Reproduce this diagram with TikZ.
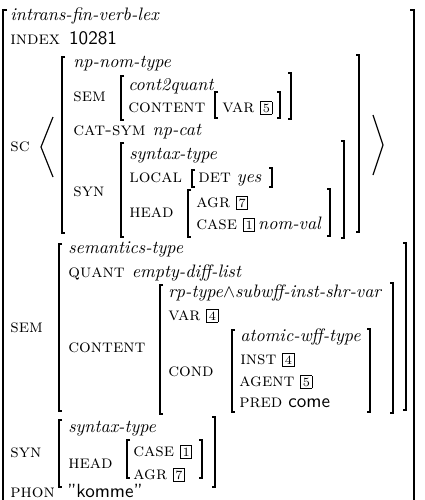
\documentclass[tikz,border=0pt]{standalone}
\usepackage{amssymb}
\newcommand{\tg}[1]{{\setlength{\fboxsep}{0.9pt}\setlength{\fboxrule}{0.45pt}\fbox{\scriptsize #1}}}
\newcommand{\ft}[1]{{\fontsize{10.2}{13}\selectfont\scshape #1}}
\newcommand{\ty}[1]{\textit{#1}}
\newcommand{\va}[1]{{\fontsize{10.6}{13}\selectfont\sffamily #1}}
\newcommand{\LB}[3]{\draw[brk] (#1+3,#2) -- (#1,#2) -- (#1,#3) -- (#1+3,#3);}
\newcommand{\RB}[3]{\draw[brk] (#1-3,#2) -- (#1,#2) -- (#1,#3) -- (#1-3,#3);}
\begin{document}
\begin{tikzpicture}[x=0.555pt,y=-0.555pt,
  txt/.style={anchor=base west,inner sep=0pt},
  brk/.style={line width=0.65pt},
  obrk/.style={line width=1pt},
  angl/.style={line width=0.65pt}]
\clip (0,0) rectangle (424,500);
\fill[white] (0,0) rectangle (424,500);
% outer bracket
\draw[obrk] (7,10) -- (3,10) -- (3,505);
\draw[obrk] (410,10) -- (414,10) -- (414,505);
\node[txt] (t1) at (10,20) {\ty{intrans-fin-verb-lex}};
\node[txt] (t2) at (10,44) {\ft{index}\hspace{5pt}\va{10281}};
% SC
\node[txt] (sc) at (10,151) {\ft{sc}};
\draw[angl] (53,117) -- (41,147) -- (53,177);
\draw[angl] (373,115) -- (383,145) -- (373,175);
\LB{62}{57}{233}
\RB{359}{55}{232}
\node[txt] (np) at (73,67) {\ty{np-nom-type}};
\node[txt] (sem1) at (73,101) {\ft{sem}};
\LB{121}{76}{120}
\RB{291}{73}{119}
\node[txt] (c2q) at (128,90) {\ty{cont2quant}};
\node[txt] (cont1) at (128,112) {\ft{content}};
\LB{215}{92}{118}
\RB{280}{92}{118}
\node[txt] (var5) at (222,112) {\ft{var} \tg{5}};
\node[txt] (cat) at (73,135) {\ft{cat-sym}\hspace{4pt}\ty{np-cat}};
\node[txt] (syn1) at (73,196) {\ft{syn}};
\LB{121}{143}{237}
\RB{344}{141}{238}
\node[txt] (st1) at (129,159) {\ty{syntax-type}};
\node[txt] (loc) at (129,182) {\ft{local}};
\LB{192}{170}{187}
\RB{272}{168}{187}
\node[txt] (det) at (198,182) {\ft{det} \ty{yes}};
\node[txt] (head1) at (129,217) {\ft{head}};
\LB{188}{190}{237}
\RB{330}{189}{236}
\node[txt] (agr1) at (196,207) {\ft{agr} \tg{7}};
\node[txt] (case1) at (196,229) {\ft{case} \tg{1}\,\ty{nom-val}};
% SEM
\node[txt] (sem2) at (10,332) {\ft{sem}};
\LB{59}{244}{411}
\RB{406}{243}{410}
\node[txt] (semt) at (68,253) {\ty{semantics-type}};
\node[txt] (quant) at (68,277) {\ft{quant}\hspace{4pt}\ty{empty-diff-list}};
\node[txt] (cont2) at (68,352) {\ft{content}};
\LB{160}{285}{414}
\RB{393}{283}{413}
\node[txt] (rp) at (168,297) {\ty{rp-type}$\wedge$\ty{subwff-inst-shr-var}};
\node[txt] (var4) at (168,320) {\ft{var} \tg{4}};
\node[txt] (cond) at (168,376) {\ft{cond}};
\LB{232}{330}{412}
\RB{370}{329}{412}
\node[txt] (awt) at (240,341) {\ty{atomic-wff-type}};
\node[txt] (inst) at (240,364) {\ft{inst} \tg{4}};
\node[txt] (agent) at (239,386) {\ft{agent} \tg{5}};
\node[txt] (pred) at (239,407) {\ft{pred} \va{come}};
% SYN
\node[txt] (syn2) at (10,457) {\ft{syn}};
\LB{59}{420}{487}
\RB{215}{417}{487}
\node[txt] (st2) at (68,432) {\ty{syntax-type}};
\node[txt] (head2) at (68,468) {\ft{head}};
\LB{127}{440}{478}
\RB{202}{440}{478}
\node[txt] (case2) at (133,456) {\ft{case} \tg{1}};
\node[txt] (agr2) at (133,479) {\ft{agr} \tg{7}};
% PHON
\node[txt] (phon) at (10,497) {\ft{phon}\hspace{7pt}\va{"komme"}};
\end{tikzpicture}
\end{document}
